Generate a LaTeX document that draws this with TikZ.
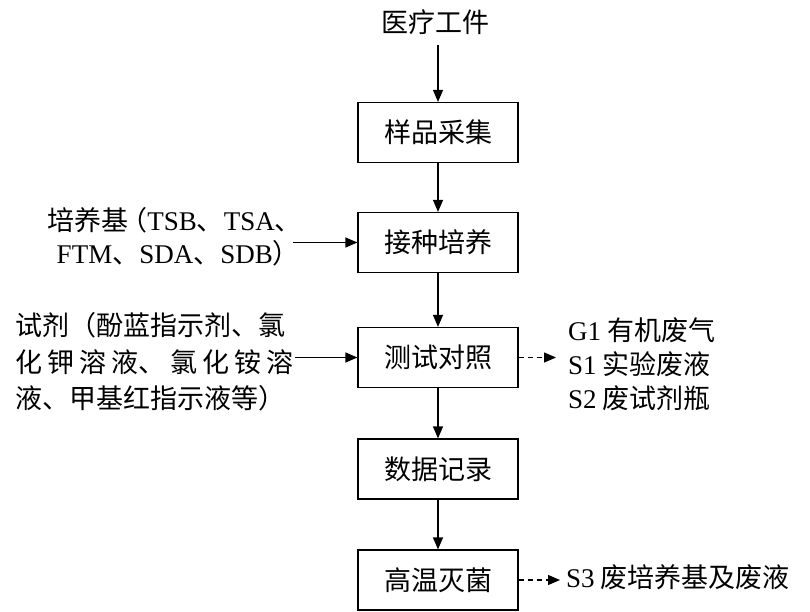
\documentclass[tikz,border=0pt]{standalone}
\usepackage{fontspec}
\setmainfont{Noto Sans CJK SC}
\newfontfamily\latf{Liberation Serif}
\usetikzlibrary{arrows.meta}
\begin{document}
\begin{tikzpicture}[x=1pt,y=-1pt,
  every node/.style={font=\fontsize{27}{32}\selectfont, inner sep=0pt},
  stepbox/.style={draw, line width=1.2pt, minimum width=160pt, minimum height=60pt},
  flow/.style={line width=1.2pt, -{Triangle[length=12pt,width=10pt]}},
  waste/.style={flow, dash pattern=on 5pt off 4pt}
]
\useasboundingbox (0,0) rectangle (810,612);
% main chain
\node (src) at (435,22) {医疗工件};
\node[stepbox] (b1) at (438,132.5) {样品采集};
\node[stepbox] (b2) at (438,242.5) {接种培养};
\node[stepbox] (b3) at (438,357.5) {测试对照};
\node[stepbox] (b4) at (438,469) {数据记录};
\node[stepbox] (b5) at (438,580) {高温灭菌};
\draw[flow] (src.south -| b1.north) ++(0,10) -- (b1.north);
\draw[flow] (b1) -- (b2);
\draw[flow] (b2) -- (b3);
\draw[flow] (b3) -- (b4);
\draw[flow] (b4) -- (b5);
% medium input
\node[anchor=east] (m1) at (292,220) {培养基\kern-8pt（{\latf TSB}、{\latf TSA}、\kern-10pt};
\node[anchor=east] (m2) at (300,253) {{\latf FTM}、{\latf SDA}、{\latf SDB}）};
\draw[flow] (m1.east |- b2.west) ++(1,0) -- (b2.west);
% reagent input
\node[anchor=west] (r1) at (15,325) {试剂（酚蓝指示剂、氯};
\node[anchor=west] (r2) at (15,362) {\makebox[278pt][s]{化\hfill 钾\hfill 溶\hfill 液、\hfill 氯\hfill 化\hfill 铵\hfill 溶}};
\node[anchor=west] (r3) at (15,398) {液、甲基红指示液等）};
\draw[flow] (r2.east |- b3.west) ++(2,0) -- (b3.west);
% outputs
\node[anchor=west] (o1) at (568,330) {{\latf G1} 有机废气};
\node[anchor=west] (o2) at (568,364) {{\latf S1} 实验废液};
\node[anchor=west] (o3) at (568,398) {{\latf S2} 废试剂瓶};
\draw[waste] (b3.east) -- (b3.east -| o2.west) [shorten >=12pt];
\node[anchor=west] (o4) at (566,577) {{\latf S3} 废培养基及废液};
\draw[waste] (b5.east) -- (b5.east -| o4.west) [shorten >=6pt];
\end{tikzpicture}
\end{document}
